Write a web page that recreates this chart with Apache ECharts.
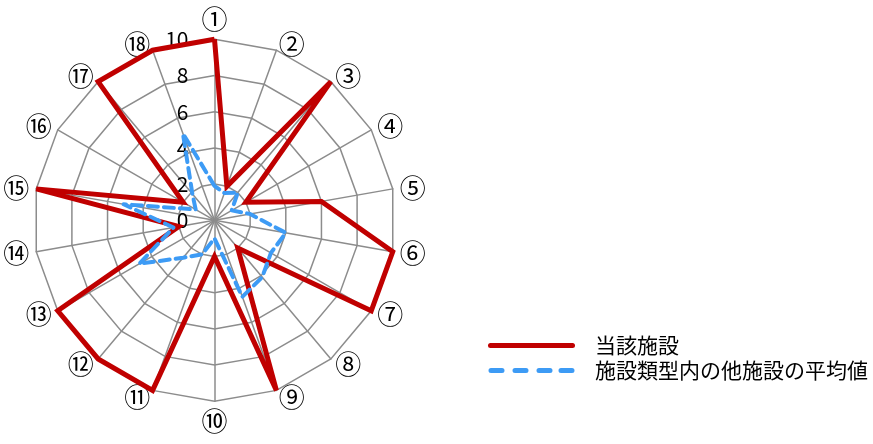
<!DOCTYPE html>
<html>
<head>
<meta charset="utf-8">
<script src="https://cdn.jsdelivr.net/npm/echarts@6/dist/echarts.min.js"></script>
<style>
html,body{margin:0;padding:0;background:#fff;}
#c{width:873px;height:444px;}
</style>
</head>
<body>
<div id="c"></div>
<script>
// ---- data ----
const categories = ['①','②','③','④','⑤','⑥','⑦','⑧','⑨','⑩','⑪','⑫','⑬','⑭','⑮','⑯','⑰','⑱'];
const facilityValues = [10, 2, 10, 2, 6, 10, 10, 2, 10, 2, 10, 10, 10, 2, 10, 2, 10, 10];
const averageValues  = [1.9, 1.6, 2.0, 1.1, 2.0, 4.0, 3.6, 4.1, 4.5, 1.0, 2.0, 2.7, 4.8, 2.3, 5.1, 1.2, 1.9, 5.1];
const tickLabels = ['0','2','4','6','8','10'];
const seriesNames = ['当該施設','施設類型内の他施設の平均値'];

const FONT = '"Noto Sans CJK JP", "Noto Sans", sans-serif';
const RED = '#c00000';
const BLUE = '#3d9bf5';
const axisMax = Number(tickLabels[tickLabels.length - 1]);

// ECharts places radar indicators counter-clockwise; reorder so ① is on top and the rest run clockwise
const order = [0];
for (let i = categories.length - 1; i >= 1; i--) order.push(i);

const indicator = order.map((k, i) => {
  const ind = { name: categories[k], min: 0, max: axisMax };
  if (i === 0) {
    ind.axisLabel = {
      show: true,
      color: '#000',
      fontSize: 21,
      fontFamily: FONT,
      margin: 26,
      formatter: v => (tickLabels.indexOf(String(v)) >= 0 ? String(v) : '')
    };
  }
  return ind;
});

const chart = echarts.init(document.getElementById('c'), null, { renderer: 'canvas' });
chart.setOption({
  animation: false,
  backgroundColor: '#fff',
  legend: {
    orient: 'vertical',
    left: 488,
    top: 335,
    padding: 0,
    itemWidth: 87,
    itemHeight: 5,
    itemGap: 4,
    selectedMode: false,
    textStyle: { color: '#000', fontSize: 21, fontFamily: FONT, padding: [0, 0, 0, 15] },
    itemStyle: { borderWidth: 0 },
    data: [
      { name: seriesNames[0], icon: 'path://M2.5,0h82a2.5,2.5 0 0 1 0,5h-82a2.5,2.5 0 0 1 0,-5z', itemStyle: { color: RED, borderWidth: 0 } },
      { name: seriesNames[1], icon: 'path://M2.5,0h11a2.5,2.5 0 0 1 0,5h-11a2.5,2.5 0 0 1 0,-5z M26.5,0h11a2.5,2.5 0 0 1 0,5h-11a2.5,2.5 0 0 1 0,-5z M50.5,0h11a2.5,2.5 0 0 1 0,5h-11a2.5,2.5 0 0 1 0,-5z M72.5,0h11a2.5,2.5 0 0 1 0,5h-11a2.5,2.5 0 0 1 0,-5z', itemStyle: { color: BLUE, borderWidth: 0 } }
    ]
  },
  radar: {
    center: [214.5, 220.3],
    radius: 181,
    startAngle: 90,
    shape: 'polygon',
    splitNumber: tickLabels.length - 1,
    nameGap: 7,
    axisName: { color: '#000', fontSize: 26, fontFamily: FONT },
    splitLine: { lineStyle: { color: '#8c8c8c', width: 1.5 } },
    splitArea: { show: false },
    axisLine: { lineStyle: { color: '#8c8c8c', width: 1.5 } },
    axisTick: { show: false },
    axisLabel: { show: false },
    indicator: indicator
  },
  series: [{
    type: 'radar',
    symbol: 'none',
    data: [
      {
        name: seriesNames[0],
        value: order.map(k => facilityValues[k]),
        lineStyle: { color: RED, width: 5, join: 'miter' },
        itemStyle: { color: RED }
      },
      {
        name: seriesNames[1],
        value: order.map(k => averageValues[k]),
        lineStyle: { color: BLUE, width: 4, type: [10, 6], cap: 'round' },
        itemStyle: { color: BLUE }
      }
    ]
  }]
});
</script>
</body>
</html>
